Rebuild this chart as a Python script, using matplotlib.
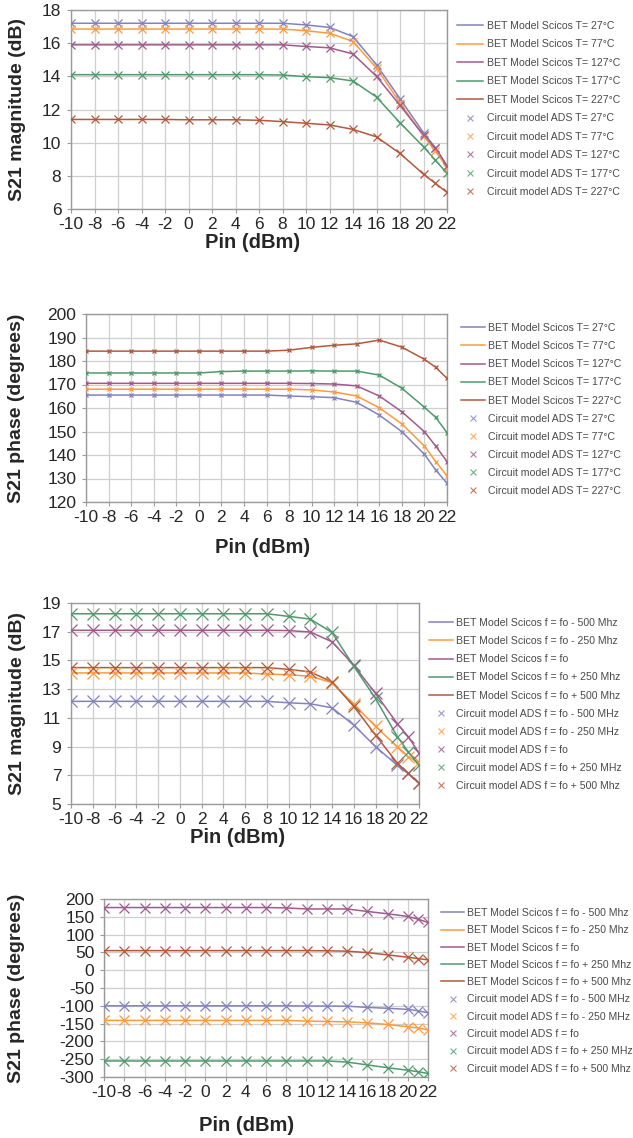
import matplotlib
matplotlib.use("Agg")
import matplotlib.pyplot as plt

plt.rcParams['font.family'] = ['Liberation Sans', 'DejaVu Sans']
plt.rcParams['axes.unicode_minus'] = False

# ---------------- data ----------------
pin = [-10, -8, -6, -4, -2, 0, 2, 4, 6, 8, 10, 12, 14, 16, 18, 20, 21, 22]
xticks = [-10, -8, -6, -4, -2, 0, 2, 4, 6, 8, 10, 12, 14, 16, 18, 20, 22]

temp_names = ["T= 27°C", "T= 77°C", "T= 127°C", "T= 177°C", "T= 227°C"]
freq_names_bet = ["f = fo - 500 Mhz", "f = fo - 250 Mhz", "f = fo",
                  "f = fo + 250 Mhz", "f = fo + 500 Mhz"]
freq_names_ads = ["f = fo - 500 MHz", "f = fo - 250 MHz", "f = fo",
                  "f = fo + 250 MHz", "f = fo + 500 Mhz"]

# Panel 1: S21 magnitude vs temperature
mag_t27 = [17.2, 17.2, 17.2, 17.2, 17.2, 17.2, 17.2, 17.2, 17.2, 17.2, 17.1, 16.95, 16.4, 14.7, 12.65, 10.6, 9.7, 8.6]
mag_t77 = [16.85, 16.85, 16.85, 16.85, 16.85, 16.85, 16.85, 16.85, 16.85, 16.85, 16.75, 16.6, 16.1, 14.5, 12.4, 10.4, 9.5, 8.5]
mag_t127 = [15.9, 15.9, 15.9, 15.9, 15.9, 15.9, 15.9, 15.9, 15.9, 15.9, 15.8, 15.72, 15.35, 14.0, 12.25, 10.45, 9.7, 8.6]
mag_t177 = [14.1, 14.1, 14.1, 14.1, 14.1, 14.1, 14.1, 14.1, 14.1, 14.08, 13.98, 13.92, 13.72, 12.75, 11.2, 9.75, 8.95, 8.15]
mag_t227 = [11.4, 11.4, 11.4, 11.4, 11.4, 11.38, 11.38, 11.38, 11.35, 11.27, 11.17, 11.07, 10.8, 10.35, 9.35, 8.1, 7.55, 7.0]

# Panel 2: S21 phase vs temperature
ph_t27 = [165.5, 165.5, 165.5, 165.5, 165.5, 165.5, 165.5, 165.5, 165.5, 165.1, 164.8, 164.4, 162.4, 157.0, 149.9, 140.3, 133.6, 128.0]
ph_t77 = [168.0, 168.0, 168.0, 168.0, 168.0, 168.0, 168.0, 168.0, 168.0, 168.0, 167.7, 166.8, 165.1, 160.1, 153.2, 143.8, 137.2, 131.1]
ph_t127 = [170.5, 170.5, 170.5, 170.5, 170.5, 170.5, 170.5, 170.5, 170.5, 170.5, 170.4, 170.2, 169.4, 165.1, 158.4, 149.9, 143.8, 137.2]
ph_t177 = [174.9, 174.9, 174.9, 174.9, 174.9, 174.9, 175.5, 175.7, 175.7, 175.7, 175.8, 175.7, 175.7, 174.0, 168.4, 160.3, 156.0, 149.5]
ph_t227 = [184.2, 184.2, 184.2, 184.2, 184.2, 184.2, 184.2, 184.2, 184.2, 184.6, 185.8, 186.7, 187.3, 188.9, 185.9, 180.7, 177.3, 172.6]

# Panel 3: S21 magnitude vs frequency
mag_fm500 = [12.15, 12.15, 12.15, 12.15, 12.15, 12.15, 12.15, 12.15, 12.15, 12.15, 12.05, 11.98, 11.7, 10.5, 9.0, 7.7, 7.13, 6.45]
mag_fm250 = [14.13, 14.13, 14.13, 14.13, 14.13, 14.13, 14.13, 14.13, 14.13, 14.05, 14.0, 13.9, 13.45, 11.95, 10.4, 9.0, 8.3, 7.9]
mag_f0 = [17.1, 17.1, 17.1, 17.1, 17.1, 17.1, 17.1, 17.1, 17.1, 17.1, 17.08, 16.98, 16.3, 14.67, 12.7, 10.6, 9.7, 8.55]
mag_fp250 = [18.25, 18.25, 18.25, 18.25, 18.25, 18.25, 18.25, 18.25, 18.25, 18.25, 18.07, 17.88, 16.95, 14.6, 12.35, 9.7, 8.65, 7.7]
mag_fp500 = [14.5, 14.5, 14.5, 14.5, 14.5, 14.5, 14.5, 14.5, 14.5, 14.5, 14.38, 14.2, 13.5, 11.8, 9.8, 7.85, 7.13, 6.44]

# Panel 4: S21 phase vs frequency
ph_fm500 = [-100, -100, -100, -100, -100, -100, -100, -100, -100, -100, -100.5, -100.8, -101, -104.5, -107, -110, -114, -119.5]
ph_fm250 = [-141, -141, -141, -141, -141, -141, -141, -141, -141, -141, -143, -144, -145, -148, -152.5, -159, -162, -168]
ph_f0 = [176, 176, 176, 176, 176, 176, 176, 176, 176, 175, 172, 172, 172, 165, 158.5, 151, 143.5, 134]
ph_fp250 = [-255, -255, -255, -255, -255, -255, -255, -255, -255, -255, -255, -255, -258, -266, -274, -281, -285, -290]
ph_fp500 = [55, 55, 55, 55, 55, 55, 55, 55, 55, 55, 55, 54.5, 53.5, 49.5, 43, 36.5, 32.7, 29]

colors = ["#8282be", "#ff9a3c", "#a05a8e", "#4f9a6c", "#b2593c"]

W, H = 633, 1138
fig = plt.figure(figsize=(W / 100, H / 100), dpi=100)


def px_axes(left, top, right, bottom):
    return fig.add_axes([left / W, 1 - bottom / H, (right - left) / W, (bottom - top) / H])


def panel(box, series, ylim, yticks, ylabel, ylab_x, xlab, bet_names, ads_names,
          ms, mew, tick_fs, leg_box, leg_spacing, leg_hl):
    ax = px_axes(*box)
    for vals, c in zip(series, colors):
        ax.plot(pin, vals, color=c, lw=1.1, zorder=3)
        ax.plot(pin, vals, ls="none", marker="x", ms=ms, mew=mew, color=c, zorder=4)
    ax.set_xlim(-10, 22)
    ax.set_ylim(*ylim)
    ax.set_xticks(xticks)
    ax.set_yticks(yticks)
    ax.grid(True, color="#cfcfcf", lw=0.9)
    ax.set_axisbelow(True)
    for s in ax.spines.values():
        s.set_color("#9a9a9a")
        s.set_linewidth(1.0)
    ax.tick_params(axis="both", labelsize=tick_fs, colors="#9a9a9a", labelcolor="#262626",
                   length=3, width=0.8)
    ax.tick_params(axis="x", pad=3)
    ax.tick_params(axis="y", pad=4)
    ax.set_ylabel(ylabel, fontsize=14, fontweight="bold", color="#262626")
    ax.yaxis.set_label_coords(ylab_x, 0.5)
    ax.set_xlabel("Pin (dBm)", fontsize=14.5, fontweight="bold", color="#262626")
    ax.xaxis.set_label_coords(*xlab)

    # legend
    handles, labels = [], []
    for n, c in zip(bet_names, colors):
        h, = ax.plot([], [], color=c, lw=1.1)
        handles.append(h)
        labels.append("BET Model Scicos " + n)
    for n, c in zip(ads_names, colors):
        h, = ax.plot([], [], ls="none", marker="x", ms=5, mew=0.8, color=c, alpha=0.8)
        handles.append(h)
        labels.append("Circuit model ADS " + n)
    leg = fig.legend(handles, labels, loc="upper left",
                     bbox_to_anchor=(leg_box[0] / W, 1 - leg_box[1] / H),
                     frameon=False, fontsize=7.6, handlelength=leg_hl,
                     handletextpad=0.3, labelspacing=leg_spacing,
                     borderpad=0, borderaxespad=0)
    for t in leg.get_texts():
        t.set_color("#4a4a4a")
    return ax


panel((71, 10, 447, 209),
      [mag_t27, mag_t77, mag_t127, mag_t177, mag_t227],
      (6, 18), [6, 8, 10, 12, 14, 16, 18], "S21 magnitude (dB)", -0.12,
      (0.484, -0.12), temp_names, temp_names, 6, 0.9, 12.5,
      (457, 21), 0.8, 2.5)

panel((86, 314, 447, 502),
      [ph_t27, ph_t77, ph_t127, ph_t177, ph_t227],
      (120, 200), [120, 130, 140, 150, 160, 170, 180, 190, 200],
      "S21 phase (degrees)", -0.17, (0.49, -0.19), temp_names, temp_names,
      3.5, 0.9, 12.5, (461, 323), 0.77, 2.3)

panel((71, 603, 419, 804),
      [mag_fm500, mag_fm250, mag_f0, mag_fp250, mag_fp500],
      (5, 19), [5, 7, 9, 11, 13, 15, 17, 19], "S21 magnitude (dB)", -0.13,
      (0.48, -0.12), freq_names_bet, freq_names_ads, 8, 0.9, 12.5,
      (429, 618), 0.77, 2.3)

panel((104, 899, 428, 1077),
      [ph_fm500, ph_fm250, ph_f0, ph_fp250, ph_fp500],
      (-300, 200), [-300, -250, -200, -150, -100, -50, 0, 50, 100, 150, 200],
      "S21 phase (degrees)", -0.245, (0.44, -0.22), freq_names_bet, freq_names_ads,
      7, 0.9, 12.5, (441, 908), 0.69, 2.2)

fig.savefig("out.png", dpi=100)
